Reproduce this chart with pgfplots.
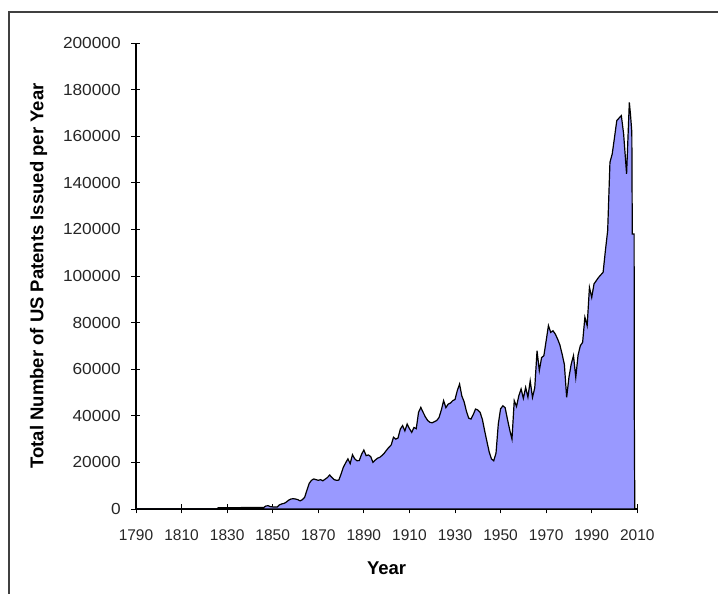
\documentclass[border=0pt]{standalone}
\usepackage{fontspec}
\setmainfont{Liberation Sans}
\usepackage{pgfplots}
\pgfplotsset{compat=1.18}
\definecolor{areafill}{RGB}{153,153,255}
\begin{document}
\begin{tikzpicture}
\useasboundingbox (-136pt,-85pt) rectangle (582pt,509pt);
\draw[line width=1.5pt, black!75] (-127pt,-85pt) -- (-127pt,497pt) -- (582pt,497pt);
\begin{axis}[
  at={(0pt,0pt)}, anchor=south west,
  scale only axis,
  width=501.3pt, height=466pt,
  xmin=1790, xmax=2010, ymin=0, ymax=200000,
  axis x line*=bottom, axis y line*=left,
  axis line style={-, black, line width=1.1pt},
  xtick={1790,1810,...,2010},
  ytick={0,20000,...,200000},
  scaled y ticks=false,
  tick align=center,
  major tick length=9pt,
  tick style={black, line width=0.9pt},
  /pgf/number format/assume math mode=true,
  /pgf/number format/fixed,
  /pgf/number format/1000 sep={},
  xticklabel style={font=\fontsize{15.5}{18}\selectfont, text=black!85, yshift=-13pt},
  yticklabel style={font=\fontsize{16}{18}\selectfont, text=black!85, xscale=1.08, xshift=-6.5pt},
  every axis y label/.style={at={(axis description cs:-0.1945,0.5)}, rotate=90, anchor=center},
  every axis x label/.style={at={(axis description cs:0.5,-0.1266)}, anchor=center},
  label style={font=\bfseries\fontsize{18.5}{20}\selectfont},
  xlabel={Year},
  ylabel={Total Number of US Patents Issued per Year},
  clip=false,
]
\addplot[fill=areafill, draw=black, line width=1.2pt] table {
x y
1790 0
1825.5 0
1826 500
1836 600
1846 600
1847 1300
1848 1400
1849 1000
1850 900
1852 900
1853 1800
1854 2200
1855 2400
1856 3000
1857 3800
1858 4300
1859 4400
1860 4300
1861 4000
1862 3500
1863 4000
1864 5000
1865 8000
1866 11000
1867 12300
1868 12900
1869 12600
1870 12300
1871 12600
1872 12100
1873 12800
1874 13500
1875 14600
1876 13500
1877 12600
1878 12300
1879 12400
1880 15000
1881 17900
1882 19800
1883 21500
1884 19500
1885 23300
1886 21500
1887 20700
1888 20800
1889 23500
1890 25300
1891 22900
1892 23200
1893 22500
1894 20000
1895 21000
1896 21800
1897 22200
1898 23000
1899 24000
1900 25300
1901 26500
1902 27500
1903 30800
1904 30000
1905 30500
1906 34300
1907 35800
1908 33500
1909 36500
1910 34500
1911 32900
1912 35000
1913 34500
1914 41500
1915 43600
1916 41500
1917 39500
1918 38000
1919 37200
1920 37000
1921 37500
1922 38000
1923 39300
1924 42500
1925 46500
1926 43500
1927 45000
1928 45500
1929 46500
1930 47000
1931 50800
1932 53600
1933 48500
1934 46000
1935 42000
1936 39000
1937 38600
1938 40500
1939 42900
1940 42500
1941 41500
1942 38500
1943 33600
1944 29000
1945 24500
1946 21500
1947 20700
1948 24000
1949 36500
1950 43000
1951 44300
1952 43500
1953 38600
1954 34000
1955 30000
1956 46500
1957 44000
1958 48600
1959 51500
1960 47500
1961 52200
1962 48000
1963 55000
1964 47900
1965 52000
1966 67900
1967 59400
1968 65000
1969 65800
1970 72200
1971 78700
1972 75800
1973 76500
1974 75100
1975 73000
1976 70500
1977 66500
1978 62000
1979 47900
1980 56500
1981 62200
1982 65800
1983 56500
1984 66000
1985 70100
1986 71500
1987 82300
1988 78700
1989 95100
1990 90800
1991 96600
1992 98000
1993 99400
1994 100500
1995 101600
1996 110900
1997 119500
1998 148800
1999 152400
2000 159500
2001 166700
2002 167800
2003 168800
2004 161000
2005.3 143800
2006.5 174500
2007 169500
2007.6 161700
2007.8 118000
2008.6 118000
2008.7 39300
2008.9 0
} \closedcycle;
\end{axis}
\end{tikzpicture}
\end{document}
